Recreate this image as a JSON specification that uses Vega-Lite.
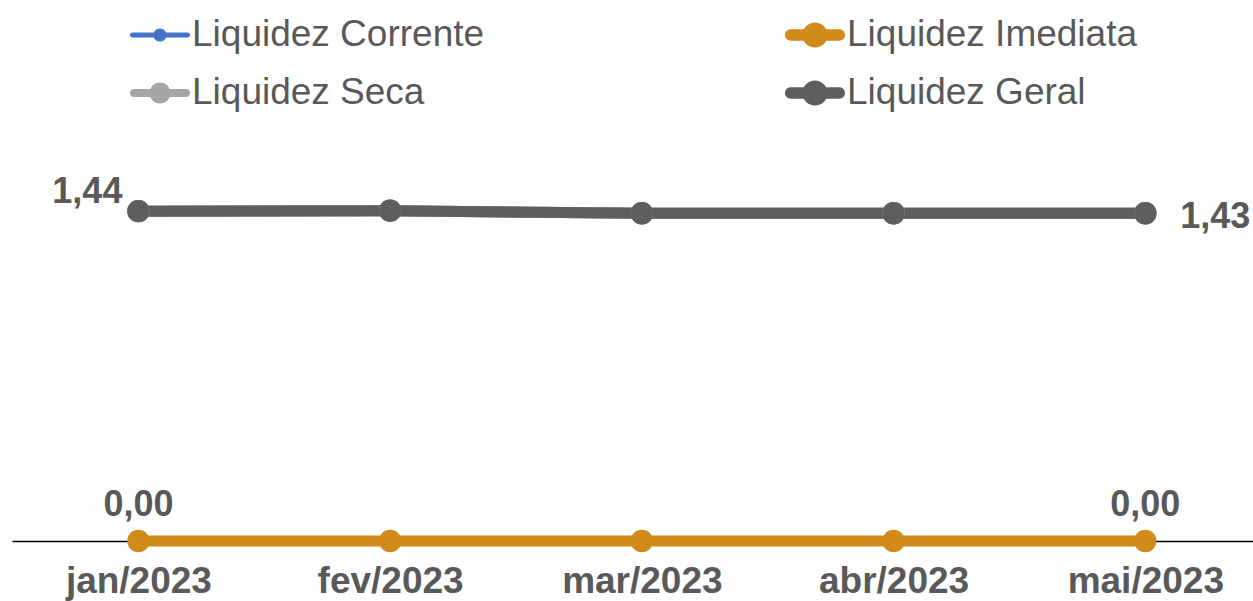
{
  "$schema": "https://vega.github.io/schema/vega-lite/v6.json",
  "width": 1241,
  "height": 412,
  "autosize": {"type": "none"},
  "padding": {"left": 12, "top": 129, "right": 0, "bottom": 60},
  "background": "white",
  "config": {
    "view": {"stroke": null},
    "font": "Liberation Sans",
    "locale": {"number": {"decimal": ",", "thousands": ".", "grouping": [3], "currency": ["R$", ""]}}
  },
  "data": {
    "values": [
      {"mes": "jan/2023", "serie": "Liquidez Corrente", "valor": 1.441},
      {"mes": "fev/2023", "serie": "Liquidez Corrente", "valor": 1.443},
      {"mes": "mar/2023", "serie": "Liquidez Corrente", "valor": 1.432},
      {"mes": "abr/2023", "serie": "Liquidez Corrente", "valor": 1.432},
      {"mes": "mai/2023", "serie": "Liquidez Corrente", "valor": 1.432},
      {"mes": "jan/2023", "serie": "Liquidez Imediata", "valor": 0},
      {"mes": "fev/2023", "serie": "Liquidez Imediata", "valor": 0},
      {"mes": "mar/2023", "serie": "Liquidez Imediata", "valor": 0},
      {"mes": "abr/2023", "serie": "Liquidez Imediata", "valor": 0},
      {"mes": "mai/2023", "serie": "Liquidez Imediata", "valor": 0},
      {"mes": "jan/2023", "serie": "Liquidez Seca", "valor": 1.441},
      {"mes": "fev/2023", "serie": "Liquidez Seca", "valor": 1.443},
      {"mes": "mar/2023", "serie": "Liquidez Seca", "valor": 1.432},
      {"mes": "abr/2023", "serie": "Liquidez Seca", "valor": 1.432},
      {"mes": "mai/2023", "serie": "Liquidez Seca", "valor": 1.432},
      {"mes": "jan/2023", "serie": "Liquidez Geral", "valor": 1.441},
      {"mes": "fev/2023", "serie": "Liquidez Geral", "valor": 1.443},
      {"mes": "mar/2023", "serie": "Liquidez Geral", "valor": 1.432},
      {"mes": "abr/2023", "serie": "Liquidez Geral", "valor": 1.432},
      {"mes": "mai/2023", "serie": "Liquidez Geral", "valor": 1.432}
    ]
  },
  "encoding": {
    "x": {
      "field": "mes", "type": "ordinal",
      "sort": ["jan/2023", "fev/2023", "mar/2023", "abr/2023", "mai/2023"],
      "scale": {"type": "point", "padding": 0.465, "align": 0.54},
      "axis": {
        "title": null, "ticks": false, "grid": false,
        "domainColor": "#000000", "domainWidth": 1.5,
        "labelFontSize": 37, "labelFontWeight": "bold", "labelColor": "#595959",
        "labelPadding": 22, "labelAngle": 0, "labelFont": "Liberation Sans"
      }
    },
    "y": {"field": "valor", "type": "quantitative", "scale": {"domain": [0, 1.8]}, "axis": null}
  },
  "layer": [
    {
      "mark": {"type": "line", "strokeWidth": 11, "point": {"filled": true, "size": 500, "opacity": 1}},
      "encoding": {
        "color": {
          "field": "serie", "type": "nominal",
          "scale": {
            "domain": ["Liquidez Corrente", "Liquidez Imediata", "Liquidez Seca", "Liquidez Geral"],
            "range": ["#4472C4", "#D08B1B", "#A5A5A5", "#5E5E5E"]
          },
          "legend": {
            "orient": "none", "legendX": 118, "legendY": -124,
            "direction": "horizontal",
            "columns": 2, "columnPadding": 300, "rowPadding": 10,
            "title": null, "padding": 0,
            "symbolSize": 3600, "symbolStrokeWidth": 0,
            "labelFontSize": 37, "labelColor": "#595959", "labelFont": "Liberation Sans",
            "labelOffset": 2, "labelLimit": 600,
            "encode": {
              "symbols": {
                "update": {
                  "fill": {"scale": "color", "field": "value"},
                  "fillOpacity": {"value": 1},
                  "opacity": {"value": 1},
                  "strokeWidth": {"value": 0},
                  "shape": {"signal": "datum.value === 'Liquidez Corrente' ? 'M-0.92,-0.083H0.92A0.083,0.083 0 0,1 0.92,0.083H-0.92A0.083,0.083 0 0,1 -0.92,-0.083Z M-0.22,0A0.22,0.22 0 1,1 0.22,0A0.22,0.22 0 1,1 -0.22,0Z' : datum.value === 'Liquidez Seca' ? 'M-0.87,-0.133H0.87A0.133,0.133 0 0,1 0.87,0.133H-0.87A0.133,0.133 0 0,1 -0.87,-0.133Z M-0.35,0A0.35,0.35 0 1,1 0.35,0A0.35,0.35 0 1,1 -0.35,0Z' : 'M-0.81,-0.19H0.81A0.19,0.19 0 0,1 0.81,0.19H-0.81A0.19,0.19 0 0,1 -0.81,-0.19Z M-0.42,0A0.42,0.42 0 1,1 0.42,0A0.42,0.42 0 1,1 -0.42,0Z'"}
                }
              }
            }
          }
        }
      }
    },
    {
      "transform": [{"filter": "datum.serie === 'Liquidez Geral' && datum.mes === 'jan/2023'"}],
      "mark": {"type": "text", "align": "right", "baseline": "alphabetic", "dx": -16, "dy": -8, "fontSize": 36, "fontWeight": "bold", "color": "#595959", "font": "Liberation Sans"},
      "encoding": {"text": {"field": "valor", "type": "quantitative", "format": ".2f"}}
    },
    {
      "transform": [{"filter": "datum.serie === 'Liquidez Geral' && datum.mes === 'mai/2023'"}],
      "mark": {"type": "text", "align": "left", "baseline": "alphabetic", "dx": 35, "dy": 15, "fontSize": 36, "fontWeight": "bold", "color": "#595959", "font": "Liberation Sans"},
      "encoding": {"text": {"field": "valor", "type": "quantitative", "format": ".2f"}}
    },
    {
      "transform": [{"filter": "datum.serie === 'Liquidez Imediata' && (datum.mes === 'jan/2023' || datum.mes === 'mai/2023')"}],
      "mark": {"type": "text", "align": "center", "baseline": "alphabetic", "dy": -25, "fontSize": 36, "fontWeight": "bold", "color": "#595959", "font": "Liberation Sans"},
      "encoding": {"text": {"field": "valor", "type": "quantitative", "format": ".2f"}}
    }
  ]
}
